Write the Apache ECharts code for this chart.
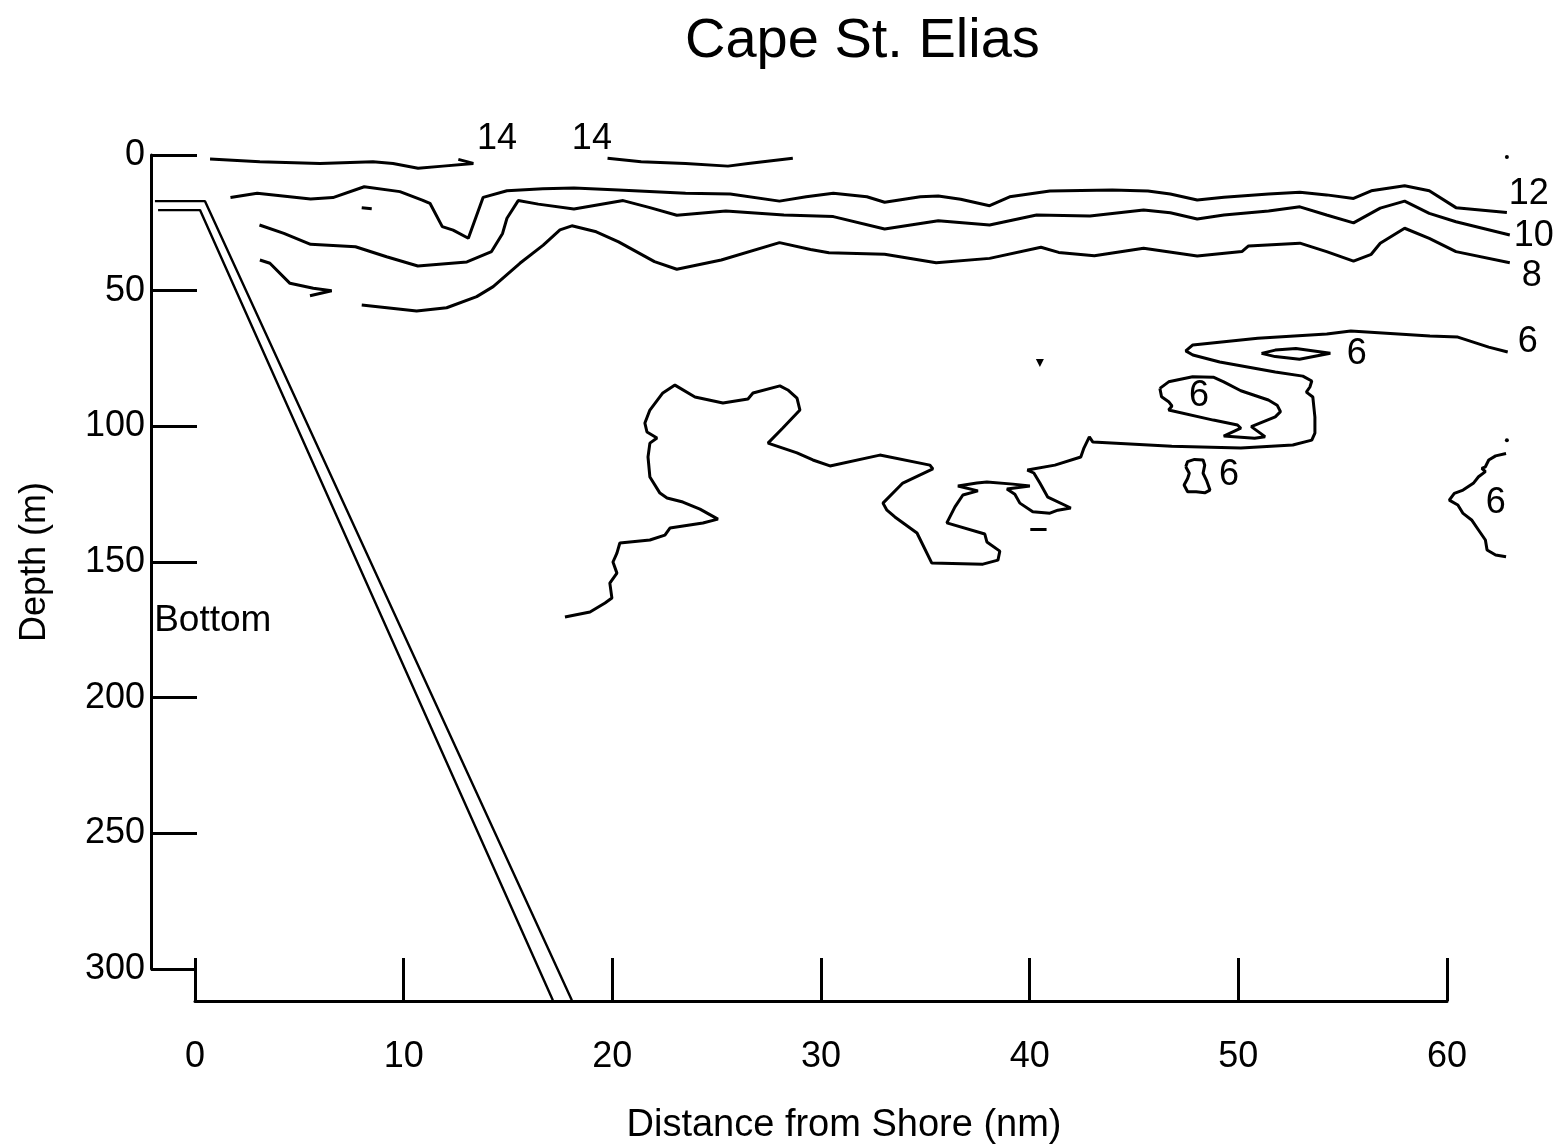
<!DOCTYPE html>
<html>
<head>
<meta charset="utf-8">
<title>Cape St. Elias</title>
<script src="https://cdn.jsdelivr.net/npm/echarts@6/dist/echarts.min.js"></script>
<style>
  html, body { margin: 0; padding: 0; background: #ffffff; }
  #chart { width: 1564px; height: 1146px; }
</style>
</head>
<body>
<div id="chart"></div>
<script>
// axis ticks
var depthTicks = [0, 50, 100, 150, 200, 250, 300];      // m
var distanceTicks = [0, 10, 20, 30, 40, 50, 60];        // nm

// isotherms, [distance nm, depth m]
var iso14a = [[0.72,1.5],[3.11,2.5],[5.99,3.1],[8.53,2.5],[9.49,3.1],[10.69,4.9],[11.88,4.1],[13.34,3.1],[12.62,1.6]];
var iso14b = [[19.77,1.2],[21.38,2.5],[23.51,3.1],[25.54,4.1],[26.51,3.1],[28.65,1.2]];

var iso12 = [[1.70,15.7],[2.98,14.1],[5.54,16.2],[6.61,15.7],[8.11,11.7],[9.82,13.5],[10.89,16.6],[11.26,17.8],
  [11.85,26.4],[12.37,27.7],[13.10,30.7],[13.81,15.6],[14.95,13.2],[16.67,12.4],[18.16,12.2],[20.30,12.9],
  [23.51,14.1],[25.65,14.4],[28.01,17.0],[29.29,15.4],[30.59,14.1],[32.20,15.4],[33.05,17.4],[34.76,15.4],
  [35.62,15.1],[36.69,16.3],[38.08,18.7],[39.04,15.4],[40.97,13.3],[43.96,12.9],[45.67,13.3],[46.74,14.4],
  [48.03,16.6],[49.31,15.6],[51.45,14.4],[52.95,13.7],[54.23,14.7],[55.52,16.0],[56.37,13.2],[57.97,11.3],
  [59.15,13.2],[60.43,19.4],[62.87,21.2]];

var iso10 = [[3.09,25.8],[4.26,28.9],[5.54,32.9],[7.69,33.8],[9.18,37.5],[10.68,40.9],[13.03,39.4],[14.21,35.6],
  [14.74,28.9],[14.95,23.3],[15.49,16.8],[16.45,18.1],[18.16,19.9],[20.52,16.8],[21.80,19.4],[23.09,22.2],
  [25.44,20.6],[28.22,22.1],[30.59,22.7],[33.05,27.3],[35.62,24.2],[38.08,25.8],[40.33,22.1],[42.89,22.5],
  [45.46,20.3],[46.74,21.3],[48.03,23.6],[49.31,22.1],[51.45,20.6],[52.95,19.1],[54.23,22.1],[55.52,25.0],
  [56.80,19.6],[57.97,17.0],[59.15,21.5],[60.43,24.6],[63.01,29.5]];

var iso8a = [[3.11,38.7],[3.59,39.9],[4.55,47.3],[5.67,49.1],[6.55,50.0],[5.51,51.9]];
var iso8 = [[7.99,55.3],[10.62,57.5],[12.06,56.3],[13.50,52.2],[14.29,48.5],[15.57,39.9],[16.69,33.2],[17.49,27.6],
  [18.06,26.1],[19.23,28.3],[20.30,32.0],[22.02,39.3],[23.09,42.1],[25.22,38.7],[28.01,32.3],[29.50,34.8],
  [30.38,36.0],[33.05,36.6],[35.52,39.7],[38.08,38.1],[40.54,34.0],[41.39,35.9],[43.10,37.1],[45.46,34.4],
  [48.03,37.2],[50.17,35.6],[50.49,33.5],[52.95,32.5],[54.23,35.6],[55.52,39.1],[56.37,36.6],[56.80,32.5],
  [57.97,27.0],[59.15,30.7],[60.43,35.6],[63.01,39.7]];

var iso6 = [[17.73,170.3],[18.93,168.4],[19.65,165.1],[19.98,163.3],[19.88,157.8],[20.22,154.1],[20.03,150.0],
  [20.22,146.7],[20.36,143.0],[21.80,141.9],[22.52,140.1],[22.76,137.5],[24.34,135.6],[25.06,134.2],[24.20,130.5],
  [23.38,127.9],[22.62,126.4],[22.28,124.6],[21.80,118.7],[21.71,111.3],[21.80,106.2],[22.14,104.3],[21.66,102.1],
  [21.56,98.8],[21.80,94.0],[22.42,87.7],[23.00,84.8],[23.96,89.2],[25.30,91.4],[26.50,89.9],[26.74,87.7],
  [28.03,85.1],[28.41,86.6],[28.85,89.6],[28.99,94.0],[28.17,100.6],[27.46,106.2],[28.85,109.8],[29.61,112.4],
  [30.43,114.6],[32.82,110.6],[35.22,114.3],[35.36,115.7],[33.92,120.9],[32.97,128.3],[33.16,130.9],[33.54,133.4],
  [34.60,139.3],[35.31,150.4],[37.76,150.8],[38.48,149.3],[38.57,146.0],[37.95,142.6],[37.85,139.7],[36.03,135.6],
  [36.42,129.7],[36.80,125.3],[37.52,123.8],[36.56,122.0],[37.47,120.9],[37.95,120.5],[39.20,121.3],[40.01,122.0],
  [38.91,123.1],[39.29,125.0],[39.53,128.3],[40.15,131.5],[40.97,132.0],[41.35,130.9],[41.97,130.1],[41.88,129.4],
  [40.87,126.1],[40.49,120.9],[40.20,117.2],[39.89,116.1],[41.21,114.3],[42.45,111.3],[42.60,108.0],[42.86,103.9],
  [43.03,105.8],[46.81,107.3],[50.12,108.0],[52.61,106.9],[53.52,105.1],[53.67,102.5],[53.67,96.6],[53.62,92.9],
  [53.57,89.2],[53.26,87.4],[53.43,85.5],[53.52,83.3],[53.09,81.5],[51.77,80.0],[49.11,76.3],[47.82,73.7],
  [47.48,72.2],[47.82,70.0],[50.93,67.5],[54.24,66.0],[55.39,64.9],[59.18,66.7],[60.52,67.1],[62.00,70.8],[62.91,72.6]];
var iso6diamond = [[51.11,73.1],[51.77,71.9],[52.76,71.3],[54.41,73.1],[52.93,75.3],[51.77,74.3],[51.11,73.1]];
var iso6loop = [[46.24,86.0],[46.66,83.6],[47.81,81.7],[48.80,81.9],[49.30,83.6],[50.12,86.9],[51.44,90.3],
  [51.86,92.2],[52.02,94.6],[51.77,96.5],[50.62,100.1],[51.28,103.8],[50.78,104.4],[49.30,103.6],[50.12,100.7],
  [49.96,99.5],[48.80,97.7],[46.66,94.0],[46.82,92.5],[46.66,90.9],[46.32,89.1],[46.24,86.0]];
var iso6small = [[47.48,114.9],[47.57,113.0],[47.90,112.2],[48.31,112.4],[48.39,114.3],[48.31,117.3],[48.47,119.8],
  [48.64,123.5],[48.39,124.5],[47.98,124.1],[47.57,124.1],[47.40,121.6],[47.57,119.2],[47.65,117.3],[47.48,114.9]];
var iso6edge = [[62.83,110.0],[62.33,110.9],[62.00,112.4],[61.84,114.9],[61.67,115.5],[61.84,116.7],[61.51,118.6],
  [61.26,121.0],[60.77,123.5],[60.35,124.7],[60.11,127.2],[60.52,129.0],[60.77,132.1],[61.18,134.5],[61.51,138.2],
  [61.84,141.9],[61.92,145.6],[62.33,147.4],[62.83,148.1]];

// small marks on the original
var dashA = [[7.99,19.4],[8.47,19.8]];
var dashB = [[40.03,138.0],[40.81,138.0]];
var dots = [[62.87,0.7],[62.87,105.1]];
var dropMark = [[40.49,76.7]];

// bottom (shelf) drawn as a double line
var bottomOuter = [[-1.92,17.0],[0.48,17.0],[18.06,311.5]];
var bottomInner = [[-1.77,20.3],[0.24,20.3],[17.15,311.5]];

// contour labels: text and position
var isoLabelText = ['14', '14', '12', '10', '8', '6', '6', '6', '6', '6'];
var isoLabelPos = [[14.47,-5.9],[19.02,-5.9],[63.92,14.4],[64.16,29.9],[64.06,44.6],[63.87,68.9],
  [55.68,73.4],[48.11,88.8],[49.55,118.0],[62.34,128.3]];
var bottomLabelPos = [[0.85,171.8]];

var fontName = 'Liberation Sans, Arial, Helvetica, sans-serif';

// one px scale for both grids: 60 nm over 1252 px, 300 m over 814 px
var pxPerNm = 1252 / 60;
var pxPerM = 814 / 300;
// the data grid is wider than the axes so lines can run past 0..60 nm and 0..300 m
var dataX = [-2.5, 65];
var dataY = [-10, 320];

var chart = echarts.init(document.getElementById('chart'), null, { renderer: 'canvas' });

function lineSeries(data, width) {
  return {
    type: 'line',
    data: data,
    symbol: 'none',
    silent: true,
    lineStyle: { color: '#000', width: width || 3 },
    z: 3
  };
}

var lines = [iso14a, iso14b, iso12, iso10, iso8a, iso8, iso6, iso6diamond, iso6loop, iso6small, iso6edge, dashA, dashB];
var series = lines.map(function (d) { return lineSeries(d); });
series.push(lineSeries(bottomOuter, 2.4));
series.push(lineSeries(bottomInner, 2.4));

series.push({
  type: 'scatter',
  data: dots,
  symbolSize: 4,
  itemStyle: { color: '#000', opacity: 1 }
});
series.push({
  type: 'scatter',
  data: dropMark,
  symbol: 'triangle',
  symbolRotate: 180,
  symbolSize: 8,
  itemStyle: { color: '#000', opacity: 1 }
});

// contour numbers
series.push({
  type: 'scatter',
  data: isoLabelPos.map(function (p, i) { return { value: p, name: isoLabelText[i] }; }),
  symbolSize: 1,
  itemStyle: { color: 'rgba(0,0,0,0)', opacity: 1 },
  label: {
    show: true,
    position: 'inside',
    formatter: '{b}',
    color: '#000',
    fontSize: 36,
    fontFamily: fontName
  }
});
series.push({
  type: 'scatter',
  data: bottomLabelPos.map(function (p) { return { value: p, name: 'Bottom' }; }),
  symbolSize: 1,
  itemStyle: { color: 'rgba(0,0,0,0)', opacity: 1 },
  label: {
    show: true,
    position: 'inside',
    formatter: '{b}',
    color: '#000',
    fontSize: 37,
    fontFamily: fontName
  }
});

var option = {
  backgroundColor: '#ffffff',
  animation: false,
  title: {
    text: 'Cape St. Elias',
    left: 680,
    top: 9,
    textStyle: { fontSize: 56, fontWeight: 'normal', color: '#000', fontFamily: fontName }
  },
  grid: [
    {
      left: 195 + dataX[0] * pxPerNm,
      width: (dataX[1] - dataX[0]) * pxPerNm,
      top: 155 + dataY[0] * pxPerM,
      height: (dataY[1] - dataY[0]) * pxPerM,
      outerBoundsMode: 'none'
    },
    { left: 195, width: 1252, top: 155, height: 814, outerBoundsMode: 'none' }
  ],
  xAxis: [
    { gridIndex: 0, type: 'value', min: dataX[0], max: dataX[1], show: false },
    {
      gridIndex: 1,
      type: 'value',
      min: distanceTicks[0],
      max: distanceTicks[distanceTicks.length - 1],
      interval: distanceTicks[1] - distanceTicks[0],
      position: 'bottom',
      offset: 32,
      name: 'Distance from Shore (nm)',
      nameLocation: 'middle',
      nameGap: 106,
      nameTextStyle: { fontSize: 38, color: '#000', fontFamily: fontName, padding: [0, 0, 0, 46] },
      axisLine: { onZero: false, lineStyle: { color: '#000', width: 3 } },
      axisTick: { inside: true, length: 43, lineStyle: { color: '#000', width: 3 } },
      axisLabel: { margin: 38, fontSize: 36, color: '#000', fontFamily: fontName },
      splitLine: { show: false }
    }
  ],
  yAxis: [
    { gridIndex: 0, type: 'value', inverse: true, min: dataY[0], max: dataY[1], show: false },
    {
      gridIndex: 1,
      type: 'value',
      inverse: true,
      min: depthTicks[0],
      max: depthTicks[depthTicks.length - 1],
      interval: depthTicks[1] - depthTicks[0],
      offset: 44,
      name: 'Depth (m)',
      nameLocation: 'middle',
      nameGap: 98,
      nameTextStyle: { fontSize: 36, color: '#000', fontFamily: fontName },
      axisLine: { onZero: false, lineStyle: { color: '#000', width: 3 } },
      axisTick: { inside: true, length: 46, lineStyle: { color: '#000', width: 3 } },
      axisLabel: { margin: 6, fontSize: 36, color: '#000', fontFamily: fontName },
      splitLine: { show: false }
    }
  ],
  series: series
};

chart.setOption(option);
</script>
</body>
</html>
